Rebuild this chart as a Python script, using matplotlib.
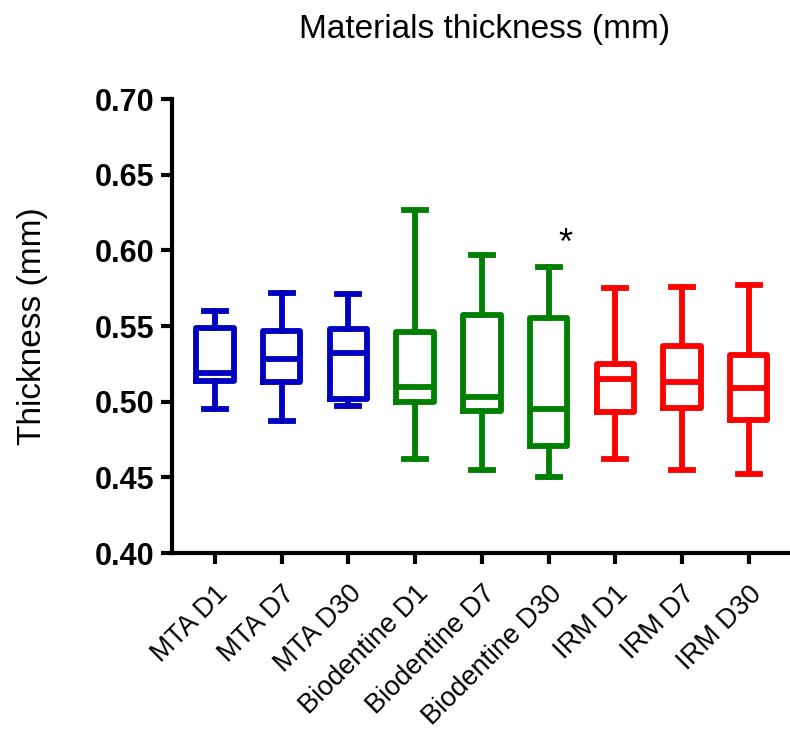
import matplotlib
matplotlib.use("Agg")
import matplotlib.pyplot as plt

plt.rcParams["font.family"] = ["Liberation Sans", "DejaVu Sans"]

# box statistics (min/max whiskers)
GROUPS = ["MTA D1", "MTA D7", "MTA D30",
          "Biodentine D1", "Biodentine D7", "Biodentine D30",
          "IRM D1", "IRM D7", "IRM D30"]
WHISLO = [0.495, 0.487, 0.497, 0.462, 0.455, 0.450, 0.462, 0.455, 0.452]
Q1 = [0.514, 0.513, 0.502, 0.500, 0.494, 0.471, 0.493, 0.496, 0.488]
MED = [0.519, 0.528, 0.532, 0.510, 0.503, 0.495, 0.515, 0.513, 0.509]
Q3 = [0.549, 0.547, 0.548, 0.546, 0.557, 0.555, 0.525, 0.537, 0.531]
WHISHI = [0.560, 0.572, 0.571, 0.627, 0.597, 0.589, 0.575, 0.576, 0.577]
COLORS = ["#0000C0"] * 3 + ["#008000"] * 3 + ["#FF0000"] * 3

STAR_GROUP = 5
STAR_Y = 0.604

stats = []
for name, lo, a, m, b, hi in zip(GROUPS, WHISLO, Q1, MED, Q3, WHISHI):
    stats.append({"label": name, "whislo": lo, "q1": a, "med": m,
                  "q3": b, "whishi": hi, "fliers": []})

fig = plt.figure(figsize=(7.9, 7.31), dpi=100)
ax = fig.add_axes([0.2177, 0.2435, 0.7823, 0.621])

lw = 4.2
for i, (s, c) in enumerate(zip(stats, COLORS)):
    ax.bxp([s], positions=[i], widths=0.56, showfliers=False,
           boxprops=dict(color=c, linewidth=lw, solid_joinstyle="round"),
           medianprops=dict(color=c, linewidth=lw),
           whiskerprops=dict(color=c, linewidth=lw),
           capprops=dict(color=c, linewidth=lw), capwidths=0.33)

ax.text(STAR_GROUP + 0.25, STAR_Y, "*", fontsize=26, ha="center", va="center")

ax.set_xlim(-0.645, 8.62)
ax.set_ylim(0.40, 0.70)
ax.set_yticks([0.40, 0.45, 0.50, 0.55, 0.60, 0.65, 0.70])
ax.set_yticklabels([f"{v:.2f}" for v in ax.get_yticks()], fontsize=22, fontweight="bold")
ax.set_xticks(range(len(GROUPS)))
ax.set_xticklabels(GROUPS, rotation=45, ha="right", va="top",
                   rotation_mode="anchor", fontsize=19.5)

for side in ["top", "right"]:
    ax.spines[side].set_visible(False)
for side in ["left", "bottom"]:
    ax.spines[side].set_linewidth(3)
ax.tick_params(width=3, length=8, pad=5)
ax.tick_params(axis="x", pad=12)

ax.set_ylabel("Thickness (mm)", fontsize=24, labelpad=33)
fig.text(0.613, 0.959, "Materials thickness (mm)", fontsize=24,
         ha="center", va="center")

fig.savefig("out.png", dpi=100)
